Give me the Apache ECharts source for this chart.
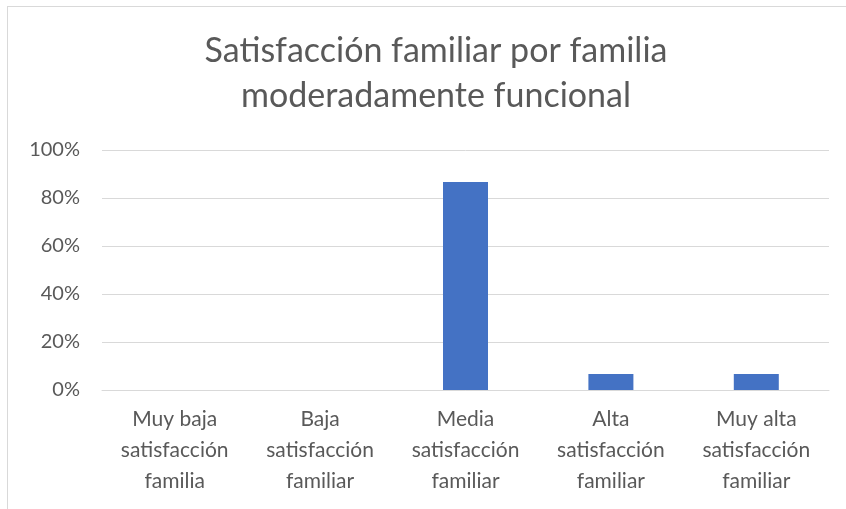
<!DOCTYPE html>
<html>
<head>
<meta charset="utf-8">
<script src="https://cdn.jsdelivr.net/npm/echarts@6/dist/echarts.min.js"></script>
<style>
html,body{margin:0;padding:0;background:#fff;}
#frame{position:absolute;left:7px;top:6px;width:900px;height:600px;border-left:1px solid #d9d9d9;border-top:1px solid #d9d9d9;}
#c{position:absolute;left:0;top:0;width:846px;height:509px;}
</style>
</head>
<body>
<div id="frame"></div>
<div id="c"></div>
<script>
const titleText = "Satisfacción familiar por familia\nmoderadamente funcional";
const categories = [
  "Muy baja\nsatisfacción\nfamilia",
  "Baja\nsatisfacción\nfamiliar",
  "Media\nsatisfacción\nfamiliar",
  "Alta\nsatisfacción\nfamiliar",
  "Muy alta\nsatisfacción\nfamiliar"
];
const values = [0, 0, 0.8667, 0.0667, 0.0667];
const yTicks = { min: 0, max: 1, interval: 0.2 };

const font = "Lato, 'Open Sans', sans-serif";
const chart = echarts.init(document.getElementById('c'), null, { renderer: 'canvas' });
chart.setOption({
  backgroundColor: 'transparent',
  animation: false,
  title: {
    text: titleText,
    left: 431,
    textAlign: 'center',
    top: 24,
    textStyle: { fontFamily: font, fontSize: 34, fontWeight: 'normal', color: '#595959', lineHeight: 45 }
  },
  grid: { left: 102, right: 17, top: 150, bottom: 119, containLabel: false },
  xAxis: {
    type: 'category',
    data: categories,
    axisLine: { show: true, lineStyle: { color: '#d9d9d9', width: 1 } },
    axisTick: { show: false },
    axisLabel: { fontFamily: font, fontSize: 21, color: '#595959', lineHeight: 31, margin: 14, interval: 0 }
  },
  yAxis: {
    type: 'value',
    min: yTicks.min, max: yTicks.max, interval: yTicks.interval,
    axisLine: { show: false },
    axisTick: { show: false },
    splitLine: { lineStyle: { color: '#d9d9d9', width: 1 } },
    axisLabel: {
      fontFamily: font, fontSize: 20, color: '#595959', margin: 22,
      formatter: v => Math.round(v * 100) + '%'
    }
  },
  series: [{
    type: 'bar',
    data: values,
    barWidth: 45,
    itemStyle: { color: '#4472c4' }
  }]
});
</script>
</body>
</html>
